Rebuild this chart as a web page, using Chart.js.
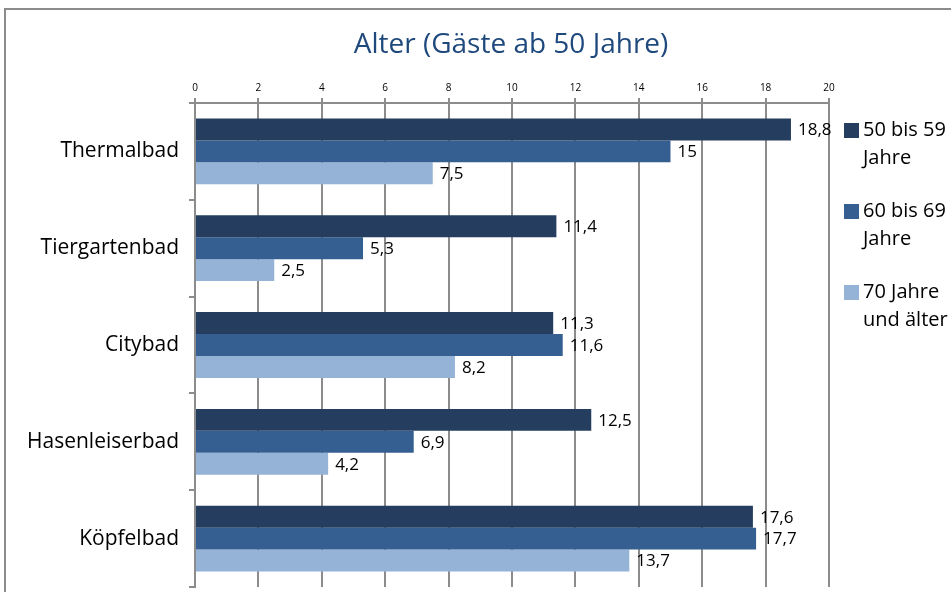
<!DOCTYPE html>
<html>
<head>
<meta charset="utf-8">
<script src="https://cdn.jsdelivr.net/npm/chart.js@4.4.0/dist/chart.umd.min.js"></script>
<style>
  html, body { margin: 0; padding: 0; background: #fff; }
  #wrap { width: 951px; height: 592px; position: relative; }
</style>
</head>
<body>
<div id="wrap"><canvas id="c" width="951" height="592"></canvas></div>
<script>
const chartTitle = 'Alter (Gäste ab 50 Jahre)';
const categories = ['Thermalbad', 'Tiergartenbad', 'Citybad', 'Hasenleiserbad', 'Köpfelbad'];
const seriesNames = [['50 bis 59', 'Jahre'], ['60 bis 69', 'Jahre'], ['70 Jahre', 'und älter']];
const series50to59 = [18.8, 11.4, 11.3, 12.5, 17.6];
const series60to69 = [15, 5.3, 11.6, 6.9, 17.7];
const series70plus = [7.5, 2.5, 8.2, 4.2, 13.7];
const seriesColors = ['#253E5F', '#365F91', '#95B3D7'];
const xMin = 0, xMax = 20, xStep = 2;

const FONT = '"Open Sans", "Noto Sans", sans-serif';
const GRID = '#8C8C8C';

const framePlugin = {
  id: 'frame',
  beforeDraw(chart) {
    const ctx = chart.ctx;
    ctx.save();
    ctx.fillStyle = '#fff';
    ctx.fillRect(0, 0, chart.width, chart.height);
    ctx.strokeStyle = GRID;
    ctx.lineWidth = 2;
    ctx.strokeRect(5, 9, chart.width + 20, chart.height + 20);
    ctx.fillStyle = '#1F497D';
    ctx.font = '28px ' + FONT;
    ctx.textAlign = 'center';
    ctx.textBaseline = 'middle';
    ctx.fillText(chartTitle, 511, 45);
    ctx.restore();
  },
  afterDatasetsDraw(chart) {
    const ctx = chart.ctx;
    ctx.save();
    ctx.fillStyle = '#000';
    ctx.font = '17px ' + FONT;
    ctx.textAlign = 'left';
    ctx.textBaseline = 'middle';
    chart.data.datasets.forEach((ds, i) => {
      const meta = chart.getDatasetMeta(i);
      meta.data.forEach((bar, j) => {
        const v = ds.data[j];
        ctx.fillText(String(v).replace('.', ','), bar.x + 7, bar.y + 1);
      });
    });
    // custom legend
    const lx = 844, baseY = 130, gap = 81, lh = 28;
    chart.data.datasets.forEach((ds, i) => {
      const y = baseY + i * gap;
      ctx.fillStyle = ds.backgroundColor;
      ctx.fillRect(lx, y - 7, 15, 15);
      ctx.fillStyle = '#000';
      ctx.font = '20px ' + FONT;
      const lines = Array.isArray(ds.label) ? ds.label : [ds.label];
      lines.forEach((t, k) => ctx.fillText(t, lx + 19, y + k * lh));
    });
    ctx.restore();
  }
};

new Chart(document.getElementById('c'), {
  type: 'bar',
  data: {
    labels: categories,
    datasets: [
      { label: seriesNames[0], data: series50to59, backgroundColor: seriesColors[0] },
      { label: seriesNames[1], data: series60to69, backgroundColor: seriesColors[1] },
      { label: seriesNames[2], data: series70plus, backgroundColor: seriesColors[2] }
    ]
  },
  options: {
    indexAxis: 'y',
    responsive: false,
    animation: false,
    devicePixelRatio: 1,
    layout: { padding: { left: 0, right: 122, top: 70, bottom: 5 } },
    datasets: { bar: { barPercentage: 1, categoryPercentage: 0.68, borderWidth: 0 } },
    plugins: { legend: { display: false }, tooltip: { enabled: false }, title: { display: false } },
    scales: {
      x: {
        position: 'top',
        min: xMin, max: xMax,
        ticks: { stepSize: xStep, color: '#000', font: { family: FONT, size: 10 }, padding: 4 },
        grid: { color: GRID, lineWidth: 2, tickLength: 5, drawTicks: true },
        border: { color: GRID, width: 2 },
        afterFit(s) { s.height = 33; s.paddingLeft = 0; s.paddingRight = 0; }
      },
      y: {
        ticks: { color: '#000', font: { family: FONT, size: 21 }, padding: 10 },
        grid: { color: GRID, lineWidth: 2, tickLength: 6, drawOnChartArea: false, offset: true },
        border: { color: GRID, width: 2 },
        afterFit(s) { s.width = 195; s.paddingTop = 0; s.paddingBottom = 0; }
      }
    }
  },
  plugins: [framePlugin]
});
</script>
</body>
</html>
